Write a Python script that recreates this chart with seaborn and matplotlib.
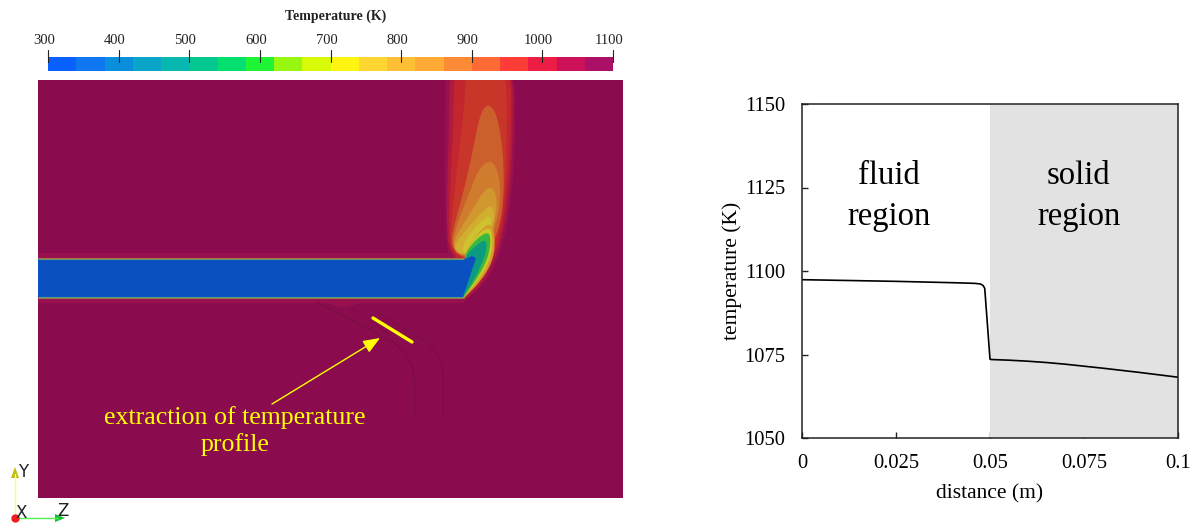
import numpy as np
import pandas as pd
import seaborn as sns
import matplotlib.pyplot as plt
from matplotlib.patches import Polygon

sns.set_theme(style="white")
plt.rcParams['font.family'] = ['Liberation Serif', 'DejaVu Serif']

# colour bar
bar_temps = [300, 400, 500, 600, 700, 800, 900, 1000, 1100]
bar_colors = ['#0A60FF', '#0F78F0', '#0A8FDC', '#0AA5C8', '#08B8B0', '#05C890', '#05DF70',
              '#20F535', '#98F710', '#D8FA05', '#FFF510', '#FFD530', '#FFBF35', '#FFAA35',
              '#FF8A35', '#FF6A35', '#FF3C35', '#EC1C45', '#CC1158', '#AA1068']

# temperature field, outlines in picture pixels
field_bg = '#8A0C4E'
flame_levels = [
    ('#98104D', [(446, 50), (445, 130), (445, 190), (446, 235), (448, 254), (456, 262), (456, 290),
                 (463, 302), (463, 302), (480, 288), (493, 270), (503, 245), (510, 208), (515, 160), (516, 50)]),
    ('#B01A3C', [(450, 50), (449, 130), (447, 190), (447, 232), (449, 250), (456, 258), (458, 285),
                 (465, 300), (465, 300), (482, 284), (493, 264), (501, 242), (508, 205), (513, 150), (513, 50)]),
    ('#C4262F', [(455, 50), (453, 130), (450, 190), (449, 232), (450, 248), (457, 256), (462, 280),
                 (466, 297), (466, 297), (482, 280), (492, 260), (500, 238), (506, 200), (511, 140), (511, 50)]),
    ('#C8362A', [(468, 50), (464, 110), (458, 160), (452, 215), (450, 240), (455, 254), (474, 262),
                 (492, 254), (503, 215), (507, 150), (506, 50)]),
    ('#CC602C', [(488, 103), (480, 114), (473, 150), (464, 190), (455, 222), (451, 242), (456, 254),
                 (472, 260), (491, 248), (501, 222), (504, 190), (503, 150), (497, 114)]),
    ('#CF7C2E', [(490, 160), (479, 168), (468, 196), (457, 224), (452, 244), (458, 255), (474, 257),
                 (489, 244), (498, 218), (501, 190), (497, 168)]),
    ('#D0982F', [(491, 186), (482, 193), (470, 214), (458, 232), (453, 246), (459, 255), (476, 254),
                 (488, 240), (496, 218), (497, 196)]),
    ('#D2AE30', [(492, 204), (482, 212), (468, 228), (458, 240), (454, 248), (461, 255), (478, 250),
                 (490, 236), (495, 216)]),
    ('#CFC230', [(491, 214), (480, 222), (468, 236), (462, 248), (465, 255), (478, 248), (491, 234)]),
]
wedge_levels = [
    ('#D89A2C', [(491, 222), (478, 232), (463, 256), (463, 299), (463, 299), (482, 280), (494, 258), (495, 236)]),
    ('#C4C828', [(490, 226), (476, 235), (463, 257), (463, 298), (463, 298), (480, 279), (491, 258), (493, 238)]),
    ('#38B840', [(488, 231), (474, 241), (463, 257), (463, 298), (463, 298), (478, 277), (488, 258), (491, 240)]),
    ('#0C9A80', [(485, 239), (473, 248), (464, 258), (463, 297), (463, 297), (475, 278), (484, 259), (487, 246)]),
]
channel_x = [38, 464]
channel_tip = [(38, 258.5), (466, 258.5), (472, 256), (476, 258), (463, 297), (38, 297)]
halo_bands = [(253, 258), (298, 303)]
channel_edges = [('#B06C3E', 257.6), ('#5E9A78', 258.6), ('#A87040', 297.9), ('#4FA088', 296.9)]

# faint tube outlines below the channel
tube_outer = [(377, 312), (427, 342), (437, 354), (443, 370), (443, 418)]
tube_inner = [(317, 302), (393, 342), (406, 354), (413, 368), (415, 385), (415, 418)]
tube_mid = [(347, 305), (390, 335)]
hot_spot = [(316, 298), (345, 298), (365, 299), (358, 304), (345, 308), (330, 304)]
probe_line = [(373, 318), (412, 342)]

# temperature profile
distance = [0, 0.01, 0.025, 0.04, 0.046, 0.0475, 0.0482, 0.0486, 0.05, 0.0503, 0.055, 0.06, 0.065, 0.07,
            0.075, 0.08, 0.09, 0.1]
temperature = [1097.4, 1097.2, 1096.9, 1096.5, 1096.3, 1096.1, 1095.6, 1094.8, 1073.6, 1073.5, 1073.3,
               1073.0, 1072.6, 1072.1, 1071.5, 1070.9, 1069.6, 1068.2]
xtick_vals = [0, 0.025, 0.05, 0.075, 0.1]
xtick_labels = ['0', '0.025', '0.05', '0.075', '0.1']
ytick_vals = [1050, 1075, 1100, 1125, 1150]

W, H = 1193, 525
fig = plt.figure(figsize=(W / 100, H / 100), dpi=100)

def axes_px(x0, y0, x1, y1):
    return fig.add_axes([x0 / W, 1 - y1 / H, (x1 - x0) / W, (y1 - y0) / H])

def rounded(pts, passes=3):
    # corner cutting so the contours look smooth
    pts = np.array(pts, dtype=float)
    for _ in range(passes):
        nxt = np.roll(pts, -1, axis=0)
        pts = np.column_stack([0.75 * pts + 0.25 * nxt, 0.25 * pts + 0.75 * nxt]).reshape(-1, 2)
    return pts

# field
ax = axes_px(38, 80, 623, 498)
ax.set_xlim(38, 623)
ax.set_ylim(498, 80)
ax.axis('off')
ax.add_patch(plt.Rectangle((38, 80), 585, 418, color=field_bg, lw=0))
ax.add_patch(Polygon(rounded(hot_spot), closed=True, color='#9A0F4E', lw=0))
for y0, y1 in halo_bands:
    ax.add_patch(plt.Rectangle((38, y0), 426, y1 - y0, color='#98104D', lw=0))
for color, pts in flame_levels + wedge_levels:
    ax.add_patch(Polygon(rounded(pts), closed=True, color=color, lw=0))
ax.add_patch(Polygon(channel_tip, closed=True, color='#0A50C0', lw=0))
for color, y in channel_edges:
    ax.plot(channel_x, [y, y], color=color, lw=0.8, solid_capstyle='butt')
for pts, alpha in [(tube_outer, 0.4), (tube_inner, 0.55), (tube_mid, 0.3)]:
    xs, ys = zip(*pts)
    ax.plot(xs, ys, color='#6E0C40', lw=1, alpha=alpha)
xs, ys = zip(*probe_line)
ax.plot(xs, ys, color='#FFFF00', lw=2.4, solid_capstyle='round')
ax.annotate('', xy=(380, 338), xytext=(272, 404),
            arrowprops=dict(arrowstyle='-|>,head_width=0.34,head_length=0.85', color='#FFFF00', lw=1,
                            shrinkA=0, shrinkB=0))
ax.text(235, 418, 'extraction of temperature', color='#FFFF00', fontsize=18.6, ha='center', va='center')
ax.text(235, 445, 'profile', color='#FFFF00', fontsize=18.6, ha='center', va='center')

# colour bar drawn as a one row heatmap
cax = axes_px(48, 57, 613, 71)
cell_index = pd.DataFrame([np.arange(len(bar_colors))])
sns.heatmap(cell_index, ax=cax, cmap=bar_colors, cbar=False, xticklabels=False, yticklabels=False)
tick_pos = [(t - 300) / 800 * len(bar_colors) for t in bar_temps]
for t, p in zip(bar_temps, tick_pos):
    cax.plot([p, p], [-0.5, 0.35], color='#222222', lw=0.8, clip_on=False)
    xpx = 48 + (t - 300) / 800 * 565
    fig.text((xpx - 4) / W, 1 - 40 / H, str(t), fontsize=10.5, ha='center', va='center', color='#222222')
fig.text(336 / W, 1 - 16 / H, 'Temperature (K)', fontsize=10, fontweight='bold', ha='center', va='center',
         color='#222222')

# axes triad
tri = axes_px(0, 455, 90, 525)
tri.set_xlim(0, 90)
tri.set_ylim(525, 455)
tri.axis('off')
tri.plot([15, 15], [518, 474], color='#FFFF66', lw=1)
tri.plot([15, 58], [518, 518], color='#55EE55', lw=1)
tri.add_patch(Polygon([(11, 478), (15, 467), (19, 478)], closed=True, color='#C4BC10', lw=0))
tri.add_patch(Polygon([(55, 514), (65, 518), (55, 522)], closed=True, color='#10C030', lw=0))
tri.plot([15], [518], 'o', color='#EE1C1C', ms=5)
for label, x, y in [('Y', 23, 472), ('X', 21, 513), ('Z', 63, 511)]:
    tri.text(x, y, label, fontsize=12, family='DejaVu Sans', ha='center', va='center', color='#222222')

# temperature profile chart
ax2 = axes_px(802, 104, 1178, 438)
ax2.axvspan(0.05, 0.1, color='#E2E2E2', lw=0)
profile = pd.DataFrame({'distance': distance, 'temperature': temperature})
sns.lineplot(data=profile, x='distance', y='temperature', color='black', lw=1.2, ax=ax2, errorbar=None)
ax2.set_xlim(0, 0.1)
ax2.set_ylim(1050, 1150)
ax2.set_xticks(xtick_vals)
ax2.set_xticklabels(xtick_labels)
ax2.set_yticks(ytick_vals)
ax2.tick_params(axis='both', labelsize=14.8, length=4.5, width=1, color='#222222', labelcolor='black',
                direction='in', left=True, bottom=True)
ax2.tick_params(axis='x', pad=11.5)
ax2.tick_params(axis='y', pad=12)
ax2.set_xlabel('distance (m)', fontsize=15.5, color='black', labelpad=8)
ax2.set_ylabel('temperature (K)', fontsize=15.5, color='black', labelpad=2)
for side in ['left', 'bottom', 'top', 'right']:
    ax2.spines[side].set_visible(True)
    ax2.spines[side].set_color('#222222')
    ax2.spines[side].set_linewidth(1.1)
ax2.text(0.0232, 1128.6, 'fluid', fontsize=23.5, ha='center', va='center', color='black')
ax2.text(0.0232, 1116.3, 'region', fontsize=23.5, ha='center', va='center', color='black')
ax2.text(0.0736, 1128.6, 'solid', fontsize=23.5, ha='center', va='center', color='black')
ax2.text(0.0736, 1116.3, 'region', fontsize=23.5, ha='center', va='center', color='black')

fig.savefig('out.png', dpi=100)
